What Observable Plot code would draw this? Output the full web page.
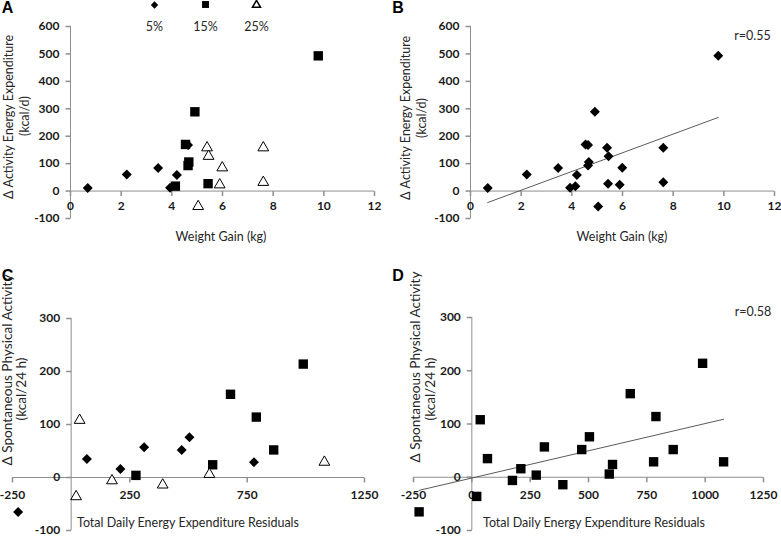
<!DOCTYPE html>
<html>
<head>
<meta charset="utf-8">
<script src="https://cdn.jsdelivr.net/npm/d3@7"></script>
<script src="https://cdn.jsdelivr.net/npm/@observablehq/plot@0.6"></script>
<style>
  body { margin: 0; background: #fff; }
  #root { position: relative; width: 781px; height: 536px; overflow: hidden; font-family: Lato, "Open Sans", sans-serif; color: #1f1f1f; }
  .box { position: absolute; }
  .lbl { position: absolute; white-space: nowrap; line-height: 1; }
</style>
</head>
<body>
<div id="root"></div>
<script>
// ---------- data ----------
const groups = ["5%", "15%", "25%"];

// Panels A & B: weight gain (kg) vs change in activity energy expenditure (kcal/d)
const weightGain  = [0.68, 2.22, 3.46, 3.93, 4.20, 4.64, 4.14, 4.54, 4.64, 4.67, 4.91, 5.43, 9.78, 5.04, 5.39, 5.45, 5.89, 5.99, 7.61, 7.61];
const activityEE  = [11, 60, 84, 12, 59, 168, 18, 170, 93, 106, 289, 27, 493, -56, 158, 127, 23, 85, 158, 32];
const groupAB     = ["5%", "5%", "5%", "5%", "5%", "5%", "15%", "15%", "15%", "15%", "15%", "15%", "15%", "25%", "25%", "25%", "25%", "25%", "25%", "25%"];

// Panels C & D: TDEE residuals vs change in spontaneous physical activity (kcal/24 h)
const tdeeResidual = [-226, 21, 36, 67, 174, 210, 276, 311, 390, 471, 504, 589, 603, 679, 779, 789, 863, 989, 1079];
const spaChange    = [-65, -36, 108, 35, -6, 16, 4, 57, -14, 52, 76, 6, 24, 157, 29, 114, 52, 214, 29];
const groupCD      = ["5%", "25%", "25%", "5%", "25%", "5%", "15%", "5%", "25%", "5%", "5%", "25%", "15%", "15%", "5%", "15%", "15%", "15%", "25%"];

// tick labels
const ticksABx = [0, 2, 4, 6, 8, 10, 12];
const ticksABy = [-100, 0, 100, 200, 300, 400, 500, 600];
const ticksCx  = [-250, 250, 750, 1250];
const ticksDx  = [-250, 0, 250, 500, 750, 1000, 1250];
const ticksCDy = [-100, 0, 100, 200, 300];

// texts
const titleAB_x = "Weight Gain (kg)";
const titleAB_y = ["Δ Activity Energy Expenditure", "(kcal/d)"];
const titleCD_x = "Total Daily Energy Expenditure Residuals";
const titleCD_y = ["Δ Spontaneous Physical Activity", "(kcal/24 h)"];
const rB = "r=0.55";
const rD = "r=0.58";

// ---------- helpers ----------
const root = document.getElementById("root");
const axisColor = "#8e8e8e";
const fitColor = "#5a5a5a";
const ink = "#1a1a1a";
const tickDown = { draw(ctx) { ctx.moveTo(0, 0); ctx.lineTo(0, 5); } };
const tickLeft = { draw(ctx) { ctx.moveTo(0, 0); ctx.lineTo(-5, 0); } };
const plotStyle = { background: "transparent", fontFamily: "Lato, 'Open Sans', sans-serif", overflow: "visible" };

function rows(xs, ys, gs) { return xs.map((x, i) => ({ x, y: ys[i], g: gs ? gs[i] : null })); }

function axesMarks(xTicks, yTicks, xdy) {
  return [
    Plot.ruleY([0], { stroke: axisColor, strokeWidth: 1 }),
    Plot.ruleX([0], { stroke: axisColor, strokeWidth: 1 }),
    Plot.dot(xTicks, { x: d => d, y: 0, symbol: tickDown, r: 1, fill: "none", stroke: axisColor }),
    Plot.dot(yTicks, { x: 0, y: d => d, symbol: tickLeft, r: 1, fill: "none", stroke: axisColor }),
    Plot.text(xTicks, { x: d => d, y: 0, dy: xdy, text: d => String(d), fontWeight: "bold", fontSize: 12, fill: ink }),
    Plot.text(yTicks, { x: 0, y: d => d, dx: -11, textAnchor: "end", text: d => String(d), fontWeight: "bold", fontSize: 12, fill: ink })
  ];
}

const sym = {
  "5%":  { symbol: "diamond2", r: 4.5, fill: "black", stroke: "none" },
  "15%": { symbol: "square",   r: 5.3, fill: "black", stroke: "none" },
  "25%": { symbol: "triangle", r: 4.0, fill: "white", stroke: "black", strokeWidth: 1 }
};

function groupDots(data) {
  return groups.map(g => Plot.dot(data.filter(d => d.g === g), { x: "x", y: "y", ...sym[g] }));
}

function addPlot(el, left, top, width, height) {
  const div = document.createElement("div");
  div.className = "box";
  div.style.left = left + "px"; div.style.top = top + "px";
  div.style.width = width + "px"; div.style.height = height + "px";
  div.appendChild(el);
  root.appendChild(div);
}

function label(text, cx, cy, opts = {}) {
  const d = document.createElement("div");
  d.className = "lbl";
  d.textContent = text;
  d.style.left = cx + "px"; d.style.top = cy + "px";
  d.style.fontSize = (opts.size || 12.5) + "px";
  if (opts.bold) d.style.fontWeight = "bold";
  if (opts.family) d.style.fontFamily = opts.family;
  d.style.color = opts.color || "#262626";
  d.style.transform = "translate(-50%,-50%)" + (opts.rotate ? " rotate(-90deg)" : "");
  root.appendChild(d);
}

const dataAB = rows(weightGain, activityEE, groupAB);
const dataCD = rows(tdeeResidual, spaChange, groupCD);

// ---------- Panel A ----------
addPlot(Plot.plot({
  width: 390, height: 268, marginLeft: 70, marginRight: 16, marginTop: 26, marginBottom: 50,
  style: plotStyle,
  x: { domain: [0, 12], axis: null },
  y: { domain: [-100, 600], axis: null },
  marks: [...axesMarks(ticksABx, ticksABy, 15), ...groupDots(dataAB)]
}), 0, 0, 390, 268);

// legend for A
addPlot(Plot.plot({
  width: 390, height: 40, margin: 0,
  style: plotStyle,
  x: { type: "point", domain: groups, range: [127, 282], axis: null },
  marks: [
    Plot.dot(["5%"],  { x: d => d, frameAnchor: "top", dy: 4.5, symbol: "diamond2", r: 3.3, fill: "black" }),
    Plot.dot(["15%"], { x: d => d, frameAnchor: "top", dy: 4,   symbol: "square",   r: 3.9, fill: "black" }),
    Plot.dot(["25%"], { x: d => d, frameAnchor: "top", dy: 4.5, symbol: "triangle", r: 3.0, fill: "white", stroke: "black" }),
    Plot.text(groups, { x: d => d, frameAnchor: "top", dy: 26, lineAnchor: "middle", text: d => d, fontSize: 12.5, fill: "#262626" })
  ]
}), 0, 0, 390, 40);

// ---------- Panel B ----------
addPlot(Plot.plot({
  width: 391, height: 268, marginLeft: 80, marginRight: 7, marginTop: 26, marginBottom: 50,
  style: plotStyle,
  x: { domain: [0, 12], axis: null },
  y: { domain: [-100, 600], axis: null },
  marks: [
    ...axesMarks(ticksABx, ticksABy, 15),
    Plot.linearRegressionY(dataAB, { x: "x", y: "y", ci: 0, stroke: fitColor, strokeWidth: 1 }),
    Plot.dot(dataAB, { x: "x", y: "y", ...sym["5%"] })
  ]
}), 390, 0, 391, 268);

// ---------- Panel C ----------
addPlot(Plot.plot({
  width: 390, height: 268, marginLeft: 12, marginRight: 26, marginTop: 50, marginBottom: 6,
  style: plotStyle,
  x: { domain: [-250, 1250], axis: null },
  y: { domain: [-100, 300], axis: null },
  marks: [...axesMarks(ticksCx, ticksCDy, 18), ...groupDots(dataCD)]
}), 0, 268, 390, 268);

// ---------- Panel D ----------
addPlot(Plot.plot({
  width: 391, height: 268, marginLeft: 23, marginRight: 18, marginTop: 49, marginBottom: 6,
  style: plotStyle,
  x: { domain: [-250, 1250], axis: null },
  y: { domain: [-100, 300], axis: null },
  marks: [
    ...axesMarks(ticksDx, ticksCDy, 18),
    Plot.linearRegressionY(dataCD, { x: "x", y: "y", ci: 0, stroke: fitColor, strokeWidth: 1 }),
    Plot.dot(dataCD, { x: "x", y: "y", ...sym["15%"] })
  ]
}), 390, 268, 391, 268);

// ---------- text ----------
const letterFont = "'Liberation Sans', Arial, sans-serif";
label("A", 7.5, 8, { size: 16, bold: true, family: letterFont, color: "#000" });
label("B", 398, 8, { size: 16, bold: true, family: letterFont, color: "#000" });
label("C", 7.5, 276, { size: 16, bold: true, family: letterFont, color: "#000" });
label("D", 398, 276, { size: 16, bold: true, family: letterFont, color: "#000" });

label(titleAB_x, 221, 237);
label(titleAB_x, 622, 237);
label(titleCD_x, 188, 523);
label(titleCD_x, 594, 523);

label(titleAB_y[0], 9, 117, { rotate: true });
label(titleAB_y[1], 25, 116, { rotate: true });
label(titleAB_y[0], 406, 118, { rotate: true });
label(titleAB_y[1], 422, 118, { rotate: true });
label(titleCD_y[0], 7.5, 370, { rotate: true, size: 13.6 });
label(titleCD_y[1], 22, 389, { rotate: true, size: 13.6 });
label(titleCD_y[0], 416, 367, { rotate: true, size: 13.6 });
label(titleCD_y[1], 431, 389, { rotate: true, size: 13.6 });

label(rB, 752.5, 36);
label(rD, 753, 312);
</script>
</body>
</html>
